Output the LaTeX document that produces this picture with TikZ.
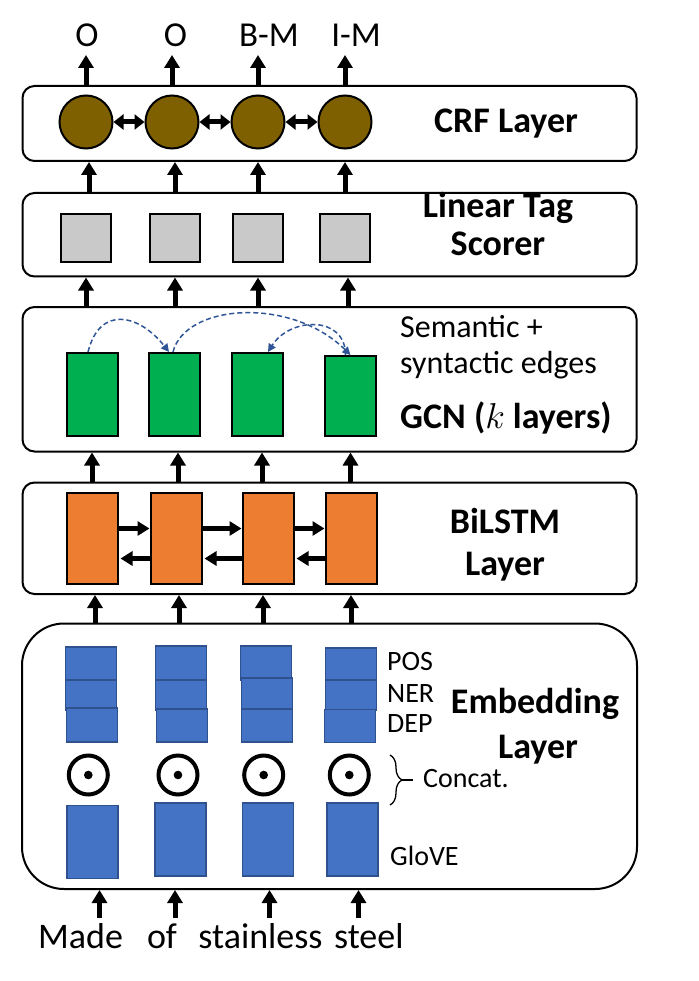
\RequirePackage{fix-cm}
\documentclass[tikz,border=0pt]{standalone}
\usepackage{amsmath}
\usepackage{amssymb}
\usepackage{fontspec}
\setmainfont{Carlito}
\usepackage{tikz}
\usetikzlibrary{arrows.meta,decorations.pathreplacing}

\definecolor{crfbrown}{HTML}{7F6000}
\definecolor{tagGray}{HTML}{C9C9C9}
\definecolor{gcnGreen}{HTML}{00B050}
\definecolor{lstmOrange}{HTML}{ED7D31}
\definecolor{embBlue}{HTML}{4472C4}
\definecolor{embLine}{HTML}{2F528F}
\definecolor{arcBlue}{HTML}{2F5597}

\begin{document}
\begin{tikzpicture}[x=1pt,y=-1pt,
  layerbox/.style={draw, line width=2pt, rounded corners=12pt, minimum width=614pt, inner sep=0pt},
  crfdot/.style={draw, circle, line width=2pt, fill=crfbrown, minimum size=53pt, inner sep=0pt},
  cell/.style={draw, line width=2pt, inner sep=0pt, minimum width=51pt},
  embcell/.style={draw=embLine, fill=embBlue, line width=1.5pt, inner sep=0pt, minimum width=51pt},
  odot/.style={draw, circle, line width=4pt, minimum size=39pt, inner sep=0pt,
    path picture={\fill (path picture bounding box.center) circle (4.3pt);}},
  uparr/.style={line width=5pt, -{Triangle[width=15pt,length=13pt]}},
  sidearr/.style={line width=4.5pt, -{Triangle[width=14pt,length=12pt]}},
  twoarr/.style={line width=5pt, {Triangle[width=15pt,length=10pt]}-{Triangle[width=15pt,length=10pt]}},
  edgearc/.style={draw=arcBlue, line width=1.5pt, dash pattern=on 5pt off 3pt, -{Triangle[width=8pt,length=8pt]}},
  laytitle/.style={font=\fontsize{36}{43}\selectfont\bfseries, inner sep=0pt, anchor=base},
  txt/.style={font=\fontsize{32}{38}\selectfont, inner sep=0pt, anchor=base west},
  feat/.style={font=\fontsize{28}{33}\selectfont, inner sep=0pt, anchor=base west},
  word/.style={font=\fontsize{36}{43}\selectfont, inner sep=0pt, anchor=base}]
\useasboundingbox (0,0) rectangle (698,981);

% layer boxes
\node[layerbox, minimum height=75pt] (crf) at (329.5,123.5) {};
\node[layerbox, minimum height=83.5pt] (lin) at (329.5,234.75) {};
\node[layerbox, minimum height=144.5pt] (gcn) at (329.5,379.25) {};
\node[layerbox, minimum height=111.5pt] (lstm) at (329.5,538.25) {};
\node[layerbox, rounded corners=42pt, minimum width=615pt, minimum height=265.5pt] (emb) at (329.5,756.25) {};

% CRF layer
\node[crfdot] (c1) at (86,122) {};
\node[crfdot] (c2) at (172,122) {};
\node[crfdot] (c3) at (258,122) {};
\node[crfdot] (c4) at (345,122) {};
\draw[twoarr] (c1) edge[] (c2) ;
\draw[twoarr] (c2) edge[] (c3) ;
\draw[twoarr] (c3) edge[] (c4) ;
\node[laytitle] (crft) at (506,133) {CRF Layer};

\node[word, font=\fontsize{35}{42}\selectfont] (t1) at (87,47) {O};
\node[word, font=\fontsize{35}{42}\selectfont] (t2) at (175.5,47) {O};
\node[word, font=\fontsize{35}{42}\selectfont] (t3) at (269,47) {B-M};
\node[word, font=\fontsize{35}{42}\selectfont] (t4) at (356,47) {I-M};
\draw[uparr, shorten >=8pt] (crf.north -| c1) -- (t1.base -| c1) ;
\draw[uparr, shorten >=8pt] (crf.north -| c2) -- (t2.base -| c2) ;
\draw[uparr, shorten >=8pt] (crf.north -| c3) -- (t3.base -| c3) ;
\draw[uparr, shorten >=8pt] (crf.north -| c4) -- (t4.base -| c4) ;

% linear tag scorer
\node[cell, fill=tagGray, minimum height=48pt, minimum width=50pt] (l1) at (86,238) {};
\node[cell, fill=tagGray, minimum height=48pt, minimum width=50pt] (l2) at (175,238) {};
\node[cell, fill=tagGray, minimum height=48pt, minimum width=50pt] (l3) at (258,238) {};
\node[cell, fill=tagGray, minimum height=48pt, minimum width=50pt] (l4) at (345,238) {};
\node[laytitle] (lint1) at (498,218) {Linear Tag};
\node[laytitle] (lint2) at (498,256) {Scorer};
\draw[uparr] (lin.north -| 89,0) -- (crf.south -| 89,0) ;
\draw[uparr] (lin.north -| l2) -- (crf.south -| l2) ;
\draw[uparr] (lin.north -| l3) -- (crf.south -| l3) ;
\draw[uparr] (lin.north -| l4) -- (crf.south -| l4) ;

% GCN
\node[cell, fill=gcnGreen, minimum height=83pt] (g1) at (92,394.5) {};
\node[cell, fill=gcnGreen, minimum height=83pt] (g2) at (174,394.5) {};
\node[cell, fill=gcnGreen, minimum height=83pt] (g3) at (257,394.5) {};
\node[cell, fill=gcnGreen, minimum height=80pt] (g4) at (350.5,396) {};
\draw[edgearc] ([xshift=-4pt]g1.north) .. controls +(12,-48) and +(-29,-37) .. ([xshift=-5pt]g2.north) ;
\draw[edgearc] ([xshift=-1pt]g2.north) .. controls +(12,-48) and +(-60,-59) .. (g4.north) ;
\draw[edgearc] ([xshift=-5pt]g4.north) .. controls +(0,-40) and +(22,-35) .. ([xshift=11pt]g3.north) ;
\node[txt] (sem1) at (400,337) {Semantic +};
\node[txt] (sem2) at (400,373) {syntactic edges};
\node[laytitle, anchor=base west] (gcnt) at (400,428) {GCN ($k$ layers)};
\draw[uparr] (gcn.north -| l1) -- (lin.south -| l1) ;
\draw[uparr] (gcn.north -| l2) -- (lin.south -| l2) ;
\draw[uparr] (gcn.north -| l3) -- (lin.south -| l3) ;
\draw[uparr] (gcn.north -| 348,0) -- (lin.south -| 348,0) ;

% BiLSTM
\node[cell, fill=lstmOrange, minimum height=91pt] (o1) at (92,538.5) {};
\node[cell, fill=lstmOrange, minimum height=91pt] (o2) at (176,538.5) {};
\node[cell, fill=lstmOrange, minimum height=91pt] (o3) at (268,538.5) {};
\node[cell, fill=lstmOrange, minimum height=91pt] (o4) at (351,538.5) {};
\draw[sidearr] ([yshift=10pt]o1.east) -- ([yshift=10pt]o2.west) ;
\draw[sidearr] ([yshift=10pt]o2.east) -- ([yshift=10pt]o3.west) ;
\draw[sidearr] ([yshift=10pt]o3.east) -- ([yshift=10pt]o4.west) ;
\draw[sidearr, shorten >=2pt] ([yshift=-20pt]o2.west) -- ([yshift=-20pt]o1.east) ;
\draw[sidearr, shorten >=2pt] ([yshift=-20pt]o3.west) -- ([yshift=-20pt]o2.east) ;
\draw[sidearr, shorten >=2pt] ([yshift=-20pt]o4.west) -- ([yshift=-20pt]o3.east) ;
\node[laytitle] (lstmt1) at (505,533) {BiLSTM};
\node[laytitle] (lstmt2) at (505,575) {Layer};
\draw[uparr] (lstm.north -| g1) -- (gcn.south -| g1) ;
\draw[uparr] (lstm.north -| 178,0) -- (gcn.south -| 178,0) ;
\draw[uparr] (lstm.north -| 262,0) -- (gcn.south -| 262,0) ;
\draw[uparr] (lstm.north -| g4) -- (gcn.south -| g4) ;

% embedding layer
\node[embcell, minimum height=33pt] (pos1) at (91,663.5) {};
\node[embcell, minimum height=30pt] (ner1) at (91,695) {};
\node[embcell, minimum height=34pt] (dep1) at (92,725) {};
\node[embcell, minimum height=34pt] (pos2) at (181,663) {};
\node[embcell, minimum height=30pt] (ner2) at (181,695) {};
\node[embcell, minimum height=33pt] (dep2) at (182,725.5) {};
\node[embcell, minimum height=34pt] (pos3) at (266,663) {};
\node[embcell, minimum height=32pt] (ner3) at (267,694) {};
\node[embcell, minimum height=33pt] (dep3) at (267,725.5) {};
\node[embcell, minimum height=32pt] (pos4) at (351,664) {};
\node[embcell, minimum height=30pt] (ner4) at (351,695) {};
\node[embcell, minimum height=33pt] (dep4) at (350,726) {};
\node[feat] (post) at (387,670) {POS};
\node[feat] (nert) at (387,702) {NER};
\node[feat] (dept) at (387,732) {DEP};

\node[odot] (d1) at (88.3,775) {};
\node[odot] (d2) at (178,775) {};
\node[odot] (d3) at (263.7,775) {};
\node[odot] (d4) at (349.3,775) {};
\coordinate (brtop) at (390,755);
\coordinate (brbot) at (390,805);
\draw[line width=1.3pt, decorate, decoration={brace, amplitude=12pt}] (brtop) -- (brbot) ;
\draw[line width=1.3pt] (401,780) -- (413,780) ;
\node[feat] (cat) at (423,787) {Concat.};

\node[embcell, minimum height=73pt] (gl1) at (92.4,842) {};
\node[embcell, minimum height=73pt] (gl2) at (180.5,839.5) {};
\node[embcell, minimum height=73pt] (gl3) at (268,839.5) {};
\node[embcell, minimum height=73pt] (gl4) at (352.3,839.5) {};
\node[feat] (glt) at (390,865) {GloVE};
\node[laytitle] (embt1) at (535,713) {Embedding};
\node[laytitle] (embt2) at (538,758) {Layer};
\draw[uparr] (emb.north -| 95,0) -- (lstm.south -| 95,0) ;
\draw[uparr] (emb.north -| 179,0) -- (lstm.south -| 179,0) ;
\draw[uparr] (emb.north -| 263,0) -- (lstm.south -| 263,0) ;
\draw[uparr] (emb.north -| pos4) -- (lstm.south -| pos4) ;

% input words
\node[word] (w1) at (80.6,948) {Made};
\node[word] (w2) at (162,948) {of};
\node[word] (w3) at (260.5,948) {stainless};
\node[word] (w4) at (368.8,948) {steel};
\coordinate (in1) at (99.5,918);
\coordinate (in2) at (175,918);
\coordinate (in3) at (269.5,918);
\coordinate (in4) at (358.5,918);
\draw[uparr] (in1) -- (in1 |- emb.south) ;
\draw[uparr] (in2) -- (in2 |- emb.south) ;
\draw[uparr] (in3) -- (in3 |- emb.south) ;
\draw[uparr] (in4) -- (in4 |- emb.south) ;
\end{tikzpicture}
\end{document}
